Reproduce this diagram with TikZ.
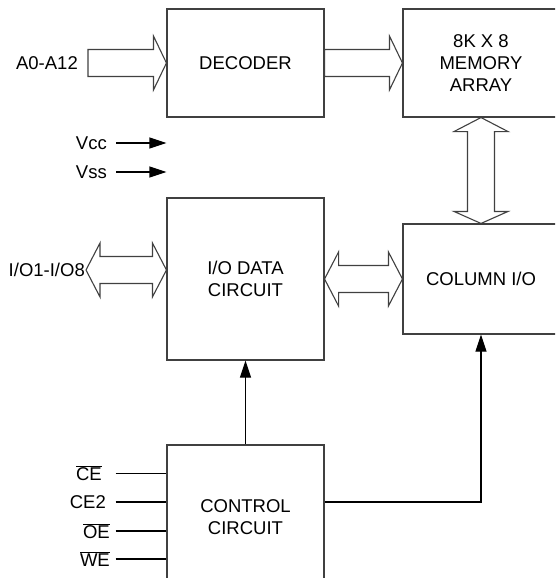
\documentclass[tikz,border=0pt]{standalone}
\usepackage{fontspec}
\setmainfont{Liberation Sans}
\usetikzlibrary{arrows.meta, calc}

% wide outlined bus arrows: tail, tip
\newcommand{\busright}[2]{%
  \draw[bus] ($(#1)+(0,-13.5)$) -- ($(#2)+(-13,-13.5)$) -- ($(#2)+(-13,-27)$) -- (#2)
    -- ($(#2)+(-13,27)$) -- ($(#2)+(-13,13.5)$) -- ($(#1)+(0,13.5)$) -- cycle;}
% left tip, right tip
\newcommand{\busboth}[2]{%
  \draw[bus] (#1) -- ($(#1)+(14,-27)$) -- ($(#1)+(14,-13.5)$) -- ($(#2)+(-14,-13.5)$)
    -- ($(#2)+(-14,-27)$) -- (#2) -- ($(#2)+(-14,27)$) -- ($(#2)+(-14,13.5)$)
    -- ($(#1)+(14,13.5)$) -- ($(#1)+(14,27)$) -- cycle;}
% top tip, bottom tip
\newcommand{\busvert}[2]{%
  \draw[bus] (#1) -- ($(#1)+(-27,14)$) -- ($(#1)+(-13.5,14)$) -- ($(#2)+(-13.5,-12)$)
    -- ($(#2)+(-27,-12)$) -- (#2) -- ($(#2)+(27,-12)$) -- ($(#2)+(13.5,-12)$)
    -- ($(#1)+(13.5,14)$) -- ($(#1)+(27,14)$) -- cycle;}

\begin{document}
\begin{tikzpicture}[x=1pt, y=-1pt,
    txt/.style={font=\fontsize{18.5}{22}\selectfont},
    block/.style={txt, draw=black!75, line width=1.1pt, align=center},
    lbl/.style={txt, inner sep=0pt},
    bus/.style={draw=black!75, line width=1.1pt, line join=miter},
    sig/.style={draw=black, line width=1.1pt, -{Triangle[length=17pt, width=11pt]}},
    wire/.style={draw=black, line width=1.1pt}]
    \clip (0,0) rectangle (555,578);

    \node [block, minimum width=157pt, minimum height=108pt] (dec) at (245.5,63) {DECODER};
    \node [block, minimum width=156pt, minimum height=108pt] (mem) at (481,63) {8K X 8\\MEMORY\\ARRAY};
    \node [block, minimum width=157pt, minimum height=162pt] (iod) at (245.5,279) {I/O DATA\\CIRCUIT};
    \node [block, minimum width=156pt, minimum height=110pt] (col) at (481,279) {COLUMN I/O};
    \node [block, minimum width=157pt, minimum height=145pt] (ctl) at (245.5,517.5) {CONTROL\\CIRCUIT};

    % outside signals
    \node [lbl, anchor=east] (addr) at (78,63) {A0-A12};
    \node [lbl, anchor=east] (vcc) at (107,143) {Vcc};
    \node [lbl, anchor=east] (vss) at (107,172) {Vss};
    \node [lbl, anchor=east] (dq) at (85,270) {I/O1-I/O8};
    \node [lbl, anchor=east] (ce) at (102,473.5) {$\overline{\hbox{CE}}$};
    \node [lbl, anchor=east] (ce2) at (106,502) {CE2};
    \node [lbl, anchor=east] (oe) at (110,531) {$\overline{\hbox{OE}}$};
    \node [lbl, anchor=east] (we) at (110,559) {$\overline{\hbox{WE}}$};

    \coordinate (addrin) at (88,63);
    \coordinate (dqin) at (86,270);
    \coordinate (vccin) at (116,143);
    \coordinate (vssin) at (116,172);
    \coordinate (cein) at (115.5,473.5);
    \coordinate (ce2in) at (115.5,502);
    \coordinate (oein) at (115.5,531);
    \coordinate (wein) at (115.5,559);

    % buses
    \busright{addrin}{dec.west}
    \busright{dec.east}{mem.west}
    \busvert{mem.south}{col.north}
    \busboth{dqin}{dqin -| iod.west}
    \busboth{iod.east}{col.west}

    \draw [sig] (vccin) -- (vccin -| dec.west);
    \draw [sig] (vssin) -- (vssin -| dec.west);
    \draw [wire] (cein) -- (cein -| ctl.west);
    \draw [wire] (ce2in) -- (ce2in -| ctl.west);
    \draw [wire] (oein) -- (oein -| ctl.west);
    \draw [wire] (wein) -- (wein -| ctl.west);

    \draw [sig] (ctl.north) -- (iod.south);
    \draw [sig] (ctl.east |- ce2in) -| (col.south);
\end{tikzpicture}
\end{document}
